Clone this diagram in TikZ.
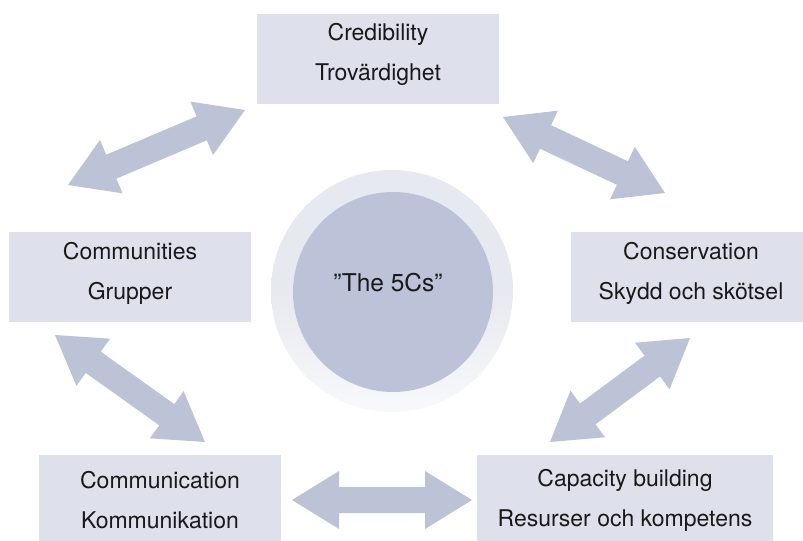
\documentclass[tikz,border=0pt]{standalone}
\usepackage{fontspec}
\setmainfont{TeX Gyre Heros}
\usetikzlibrary{calc}
\definecolor{boxfill}{HTML}{DEE0EC}
\definecolor{arrowfill}{HTML}{BCC3D7}
\definecolor{ringfill}{HTML}{E7E9F0}
\definecolor{ringlight}{HTML}{F8F9FB}
\definecolor{corefill}{HTML}{BCC3D8}
\tikzset{
  cbox/.style={fill=boxfill, draw=none, inner sep=0pt},
  ctext/.style={inner sep=0pt, align=center,
    font=\fontsize{23bp}{40bp}\selectfont, text=black!90},
  blockarrow/.style={fill=arrowfill, draw=none},
}
\newcommand\hl{47bp}
\newcommand\hw{29bp}
\newcommand\sw{13bp}
\newcommand\dblarrow[2]{%
  \fill[blockarrow] (#1)
    -- ($(#1)!\hl!(#2)!\hw!90:(#2)$)
    -- ($(#1)!\hl!(#2)!\sw!90:(#2)$)
    -- ($(#2)!\hl!(#1)!\sw!-90:(#1)$)
    -- ($(#2)!\hl!(#1)!\hw!-90:(#1)$)
    -- (#2)
    -- ($(#2)!\hl!(#1)!\hw!90:(#1)$)
    -- ($(#2)!\hl!(#1)!\sw!90:(#1)$)
    -- ($(#1)!\hl!(#2)!\sw!-90:(#2)$)
    -- ($(#1)!\hl!(#2)!\hw!-90:(#2)$)
    -- cycle;}
\begin{document}
\begin{tikzpicture}[x=1bp,y=-1bp]
\useasboundingbox (0,0) rectangle (803,541);
\fill[white] (0,0) rectangle (803,541);

% boxes
\node[cbox, minimum width=242bp, minimum height=90bp] (cred) at (378,59) {};
\node[cbox, minimum width=242bp, minimum height=90bp] (comm) at (130,277) {};
\node[cbox, minimum width=238bp, minimum height=90bp] (cons) at (690,277) {};
\node[cbox, minimum width=242bp, minimum height=87bp] (comn) at (160,498.5) {};
\node[cbox, minimum width=296bp, minimum height=87bp] (capa) at (625,498.5) {};

\node[ctext] (credt) at ($(cred.center)+(0,-5)$) {Credibility\\Trovärdighet};
\node[ctext] (commt) at ($(comm.center)+(0,-4)$) {Communities\\Grupper};
\node[ctext] (const) at ($(cons.center)+(1,-4)$) {Conservation\\Skydd och skötsel};
\node[ctext] (comnt) at ($(comn.center)+(0,1.5)$) {Communication\\Kommunikation};
\node[ctext] (capat) at ($(capa.center)+(0,1.5)$) {Capacity building\\Resurser och kompetens};

% centre circle
\shade[shading=axis, shading angle=135, top color=ringfill, bottom color=ringlight, middle color=ringfill]
  (392,291) circle[radius=121bp];
\node[circle, fill=corefill, minimum size=200bp, inner sep=0pt] (core) at (393,292) {};
\node[inner sep=0pt, font=\fontsize{24.5bp}{28bp}\selectfont, text=black!90] (coret)
  at ($(core.center)+(-5,-9)$) {”The 5Cs”};

% arrow end points
\coordinate (a1) at (68,185);  \coordinate (b1) at (245,110);
\coordinate (a2) at (503,117); \coordinate (b2) at (665,193);
\coordinate (a3) at (690,338); \coordinate (b3) at (550,442);
\coordinate (a4) at (55,335);  \coordinate (b4) at (205,442);
\coordinate (a5) at (292,500); \coordinate (b5) at (472,500);

\dblarrow{a1}{b1}
\dblarrow{a2}{b2}
\dblarrow{a3}{b3}
\dblarrow{a4}{b4}
\dblarrow{a5}{b5}
\end{tikzpicture}
\end{document}
